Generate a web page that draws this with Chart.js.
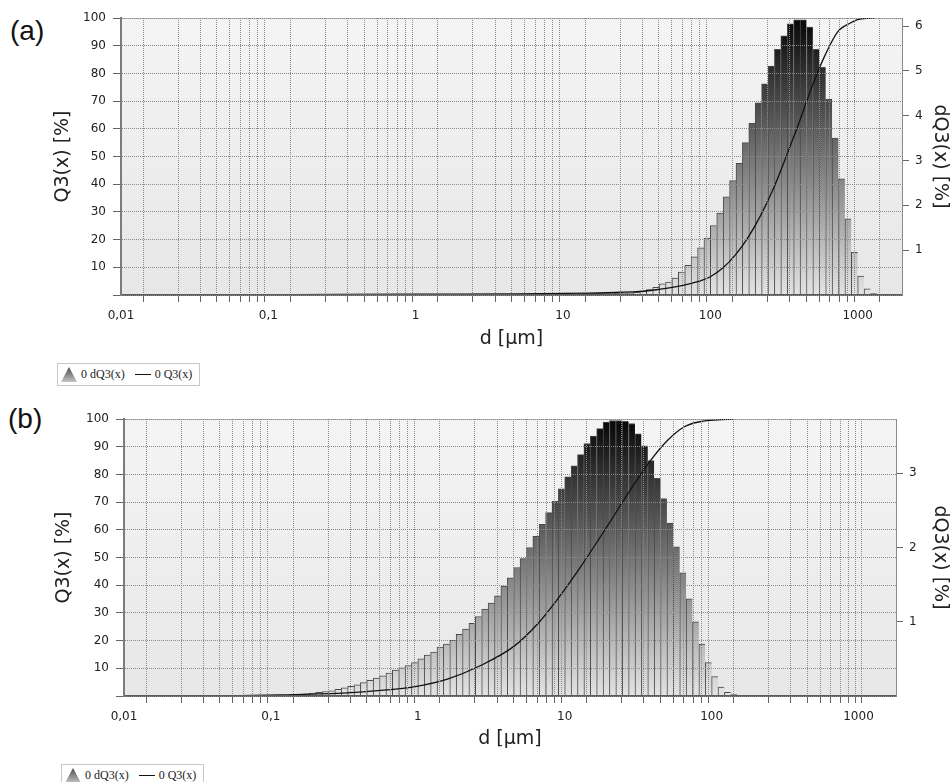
<!DOCTYPE html>
<html>
<head>
<meta charset="utf-8">
<script src="https://cdn.jsdelivr.net/npm/chart.js@4.4.0/dist/chart.umd.min.js"></script>
<style>
  html, body { margin: 0; padding: 0; background: #fff; }
  body { width: 951px; height: 782px; position: relative; overflow: hidden; }
  .panel { position: absolute; left: 0; width: 951px; height: 350px; }
  .tag { position: absolute; font-family: "Liberation Sans", Arial, sans-serif; font-size: 28px; line-height: 1; color: #111; }
  .legend { position: absolute; height: 21px; border: 1px solid #c8c8c8; background: #fff;
            font-family: "Liberation Serif", serif; font-size: 12px; color: #222;
            display: flex; align-items: center; padding: 0 7px 0 3px; white-space: nowrap; }
  .legend .tri { width: 16px; height: 15px; clip-path: polygon(50% 0, 100% 100%, 0 100%);
                 background: linear-gradient(#4a4a4a, #c4c4c4); margin-right: 4px; }
  .legend .ln { width: 16px; border-top: 1px solid #111; margin: 0 4px 0 10px; }
</style>
</head>
<body>
<div class="tag" style="left:10px; top:17px">(a)</div>
<div class="panel" style="top:0"><canvas id="chartA" width="951" height="350"></canvas></div>
<div class="legend" id="legA" style="left:57px; top:363px"></div>

<div class="tag" style="left:8px; top:405px">(b)</div>
<div class="panel" style="top:400px"><canvas id="chartB" width="951" height="350"></canvas></div>
<div class="legend" id="legB" style="left:61px; top:764px"></div>

<script>
// size classes of the analyser: 23 per decade, lower edges within one decade [µm]
const classGrid = [1, 1.105, 1.222, 1.351, 1.493, 1.650, 1.824, 2.016, 2.228, 2.463, 2.722, 3.009,
                   3.326, 3.677, 4.064, 4.492, 4.965, 5.488, 6.066, 6.705, 7.411, 8.192, 9.055];

// x axis (log), labels with decimal comma
const xMajor = [0.01, 0.1, 1, 10, 100, 1000];
const xMajorLabels = ['0,01', '0,1', '1', '10', '100', '1000'];
const xMinorSteps = [1, 2, 3, 4, 5, 6, 7, 8, 9];
const q3Ticks = [10, 20, 30, 40, 50, 60, 70, 80, 90, 100];

// (a) dQ3 per class, first class index relative to 1 µm
const firstClassA = -8;
const dQ3A = [0.01, 0.01, 0.01, 0.01, 0.01, 0.01, 0.01, 0.01,
              0.01, 0.01, 0.01, 0.01, 0.01, 0.01, 0.01, 0.01, 0.01, 0.01, 0.01, 0.01, 0.01, 0.01, 0.01, 0.01, 0.01, 0.01,
              0.02, 0.02, 0.02, 0.02, 0.02, 0.02, 0.02, 0.02, 0.03, 0.03, 0.03, 0.03,
              0.03, 0.04, 0.05, 0.05, 0.06,
              0.08, 0.12, 0.17, 0.25, 0.29, 0.38, 0.51, 0.66, 0.85, 1.05,
              1.27, 1.55, 1.83, 2.19, 2.55, 2.94, 3.40, 3.83, 4.29, 4.71,
              5.11, 5.48, 5.78, 6.05, 6.14, 6.14, 5.98, 5.48, 5.08, 4.37,
              3.50, 2.59, 1.70, 0.95, 0.42, 0.14, 0.03];
const q3A_d = [0.04, 0.3, 1, 5, 15, 25, 33, 43, 59, 81, 100, 122, 148, 181, 221, 270, 330, 404, 492, 600, 732, 900, 1000, 1105, 1300];
const q3A   = [0, 0.2, 0.3, 0.4, 0.7, 1.0, 1.3, 1.9, 3.0, 4.7, 6.6, 9.8, 14.5, 20.9, 29.0, 38.8, 50.5, 62.8, 75.5, 86.5, 95.0, 98.3, 99.4, 99.8, 100];
const dQ3TicksA = [1, 2, 3, 4, 5, 6];

// (b)
const firstClassB = -20;
const dQ3B = [0.02, 0.02, 0.03, 0.04, 0.05, 0.06, 0.07, 0.09, 0.11, 0.13,
              0.15, 0.18, 0.21, 0.24, 0.27, 0.31, 0.35, 0.38, 0.41, 0.45,
              0.50, 0.55, 0.59, 0.66, 0.70, 0.75, 0.83, 0.90, 0.98, 1.07,
              1.17, 1.25, 1.35, 1.48, 1.59, 1.73, 1.85, 2.00, 2.15, 2.31,
              2.47, 2.62, 2.79, 2.95, 3.10, 3.25, 3.40, 3.50, 3.60, 3.69,
              3.71, 3.71, 3.70, 3.67, 3.53, 3.37, 3.17, 2.93, 2.66, 2.33,
              2.01, 1.66, 1.31, 1.00, 0.70, 0.45, 0.26, 0.12, 0.05, 0.02];
const q3B_d = [0.044, 0.116, 0.33, 0.56, 0.94, 1.59, 2.68, 4.53, 6.53, 8.95, 12.9, 19.6, 28.3, 38.8, 50.4, 65.3, 84.9, 110, 140];
const q3B   = [0, 0.4, 1.1, 2.0, 3.3, 6.1, 11.0, 18.0, 26.0, 35.0, 46.8, 61.5, 74.8, 85.3, 92.4, 97.2, 99.1, 99.7, 100];
const dQ3TicksB = [1, 2, 3];

function classEdge(k) {
  const dec = Math.floor(k / 23);
  return classGrid[k - dec * 23] * Math.pow(10, dec);
}
function classCenter(k) {
  return Math.sqrt(classEdge(k) * classEdge(k + 1));
}

const xGrid = [];
xMajor.forEach(m => xMinorSteps.forEach(s => xGrid.push(parseFloat((m * s).toPrecision(6)))));

const tickFont = { family: 'DejaVu Sans', size: 12 };
const titleFont = { family: 'DejaVu Sans', size: 19 };

const plotBackground = {
  id: 'plotBackground',
  beforeDraw(chart) {
    const { ctx, chartArea: a } = chart;
    const g = ctx.createLinearGradient(0, a.top, 0, a.bottom);
    g.addColorStop(0, '#f4f4f4');
    g.addColorStop(1, '#e7e7e7');
    ctx.save();
    ctx.fillStyle = g;
    ctx.fillRect(a.left, a.top, a.width, a.height);
    ctx.strokeStyle = '#b8b8b8';
    ctx.lineWidth = 1;
    ctx.beginPath();
    ctx.moveTo(a.left, Math.round(a.top) + 0.5);
    ctx.lineTo(a.right, Math.round(a.top) + 0.5);
    ctx.stroke();
    ctx.restore();
  }
};

function barFill(context) {
  const a = context.chart.chartArea;
  if (!a) return '#888';
  const g = context.chart.ctx.createLinearGradient(0, a.bottom, 0, a.top);
  g.addColorStop(0, '#e4e4e4');
  g.addColorStop(1, '#050505');
  return g;
}

function makeChart(id, p) {
  const H = 350, W = 951;
  return new Chart(document.getElementById(id), {
    type: 'bar',
    data: {
      datasets: [
        {
          type: 'line', label: '0 Q3(x)', yAxisID: 'yQ',
          data: p.q3d.map((d, i) => ({ x: d, y: p.q3[i] })),
          borderColor: '#111', borderWidth: 1.3, pointRadius: 0,
          cubicInterpolationMode: 'monotone', order: 0
        },
        {
          type: 'bar', label: '0 dQ3(x)', yAxisID: 'yD',
          data: p.dq3.map((v, i) => ({ x: classCenter(p.first + i), y: v })),
          backgroundColor: barFill, borderColor: '#4a4a4a',
          borderWidth: { top: 1, left: 1, right: 0, bottom: 0 },
          barPercentage: 1, categoryPercentage: 1, order: 1
        }
      ]
    },
    options: {
      responsive: false, animation: false, devicePixelRatio: 1,
      layout: { padding: { top: p.top, left: 0, right: 0, bottom: 0 } },
      plugins: { legend: { display: false }, tooltip: { enabled: false } },
      scales: {
        x: {
          type: 'logarithmic', min: 0.01, max: p.xMax,
          afterBuildTicks: s => { s.ticks = xGrid.filter(v => v >= 0.01 && v <= p.xMax).map(v => ({ value: v })); },
          afterFit: s => { s.height = H - p.bottom; },
          ticks: {
            autoSkip: false, maxRotation: 0, padding: 7, color: '#222', font: tickFont,
            callback: v => { const i = xMajor.indexOf(v); return i < 0 ? '' : xMajorLabels[i]; }
          },
          grid: { color: '#8a8a8a', tickLength: 7, tickColor: '#666', z: 1 },
          border: { color: '#5c5c5c', width: 2, dash: [1, 1], z: 1 },
          title: { display: true, text: 'd [µm]', color: '#222', font: titleFont, padding: { top: p.xTitlePad, bottom: 0 } }
        },
        yQ: {
          position: 'left', min: 0, max: 100,
          afterBuildTicks: s => { s.ticks = [0].concat(q3Ticks).map(v => ({ value: v })); },
          afterFit: s => { s.width = p.left; },
          ticks: { padding: 7, color: '#222', font: tickFont, callback: v => v === 0 ? '' : String(v) },
          grid: { color: '#8a8a8a', tickLength: 8, tickColor: '#666', z: 1 },
          border: { color: '#7c7c7c', width: 2, dash: [1, 1], z: 1 },
          title: { display: true, text: 'Q3(x) [%]', color: '#222', font: titleFont, padding: { top: p.yTitlePad, bottom: 0 } }
        },
        yD: {
          position: 'right', min: 0, max: p.dMax,
          afterBuildTicks: s => { s.ticks = p.dTicks.map(v => ({ value: v })); },
          afterFit: s => { s.width = W - p.right; },
          ticks: { padding: 6, color: '#222', font: tickFont },
          grid: { drawOnChartArea: false, tickLength: 7, tickColor: '#666', z: 1 },
          border: { color: '#8a8a8a', width: 1, z: 1 },
          title: { display: true, text: 'dQ3(x) [%]', color: '#222', font: titleFont, padding: { top: 0, bottom: 0 } }
        }
      }
    },
    plugins: [plotBackground]
  });
}

function fillLegend(el, chart) {
  const ds = chart.data.datasets;
  const bar = ds.find(d => d.type === 'bar');
  const line = ds.find(d => d.type === 'line');
  el.innerHTML = '<span class="tri"></span><span>' + bar.label + '</span>' +
                 '<span class="ln"></span><span>' + line.label + '</span>';
}

const chartA = makeChart('chartA', {
  top: 18, bottom: 295, left: 121, right: 902, xMax: 2000, dMax: 6.18,
  first: firstClassA, dq3: dQ3A, q3d: q3A_d, q3: q3A, dTicks: dQ3TicksA, xTitlePad: 6, yTitlePad: 52
});
const chartB = makeChart('chartB', {
  top: 19, bottom: 296, left: 124, right: 896, xMax: 1800, dMax: 3.73,
  first: firstClassB, dq3: dQ3B, q3d: q3B_d, q3: q3B, dTicks: dQ3TicksB, xTitlePad: 4, yTitlePad: 53
});
fillLegend(document.getElementById('legA'), chartA);
fillLegend(document.getElementById('legB'), chartB);
</script>
</body>
</html>
